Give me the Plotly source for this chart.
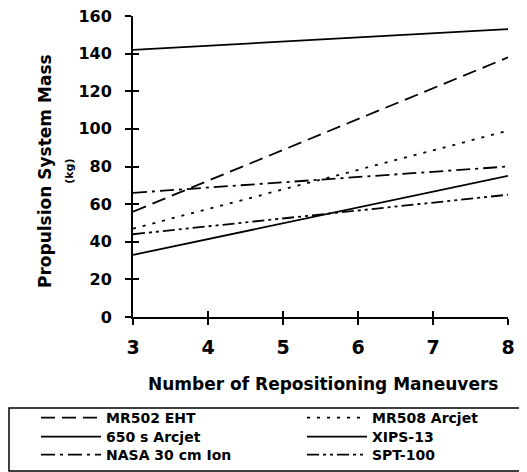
import plotly.graph_objects as go

x_vals = [3, 8]
mr502_eht = [56, 138]
mr508_arcjet = [47, 99]
arcjet_650 = [142, 153]
xips_13 = [33, 75]
nasa_30cm = [66, 80]
spt_100 = [44, 65]

series_names = ["MR502 EHT", "650 s Arcjet", "NASA 30 cm Ion",
                "MR508 Arcjet", "XIPS-13", "SPT-100"]
series_values = [mr502_eht, arcjet_650, nasa_30cm,
                 mr508_arcjet, xips_13, spt_100]
series_dash = ["14px,7px", "solid", "14px,5px,3px,5px",
               "3px,7px", "solid", "12px,4px,3px,4px,3px,4px"]

x_ticks = [3, 4, 5, 6, 7, 8]
y_ticks = [0, 20, 40, 60, 80, 100, 120, 140, 160]

FONT = "DejaVu Sans"
OFF = 8  # page body margin of the generated html
W, H = 527 - OFF, 472 - OFF
L, T = 133 - OFF, 16 - OFF
R = W - (508 - OFF)
B = H - (317 - OFF)
PW, PH = W - L - R, H - T - B


def px(xp):
    return (xp - OFF - L) / PW


def py(yp):
    return (H - B - (yp - OFF)) / PH


# legend slots (page pixel positions): column x, row y
legend_x = [36, 36, 36, 302, 302, 302]
legend_y = [418, 437, 455, 418, 437, 455]

fig = go.Figure()
legend_layouts = {}
for i, (name, vals, dash) in enumerate(zip(series_names, series_values, series_dash)):
    lname = "legend" if i == 0 else f"legend{i + 1}"
    fig.add_trace(go.Scatter(x=x_vals, y=vals, mode="lines", name=name,
                             legend=lname,
                             line=dict(color="black", width=1.8, dash=dash)))
    legend_layouts[lname] = dict(
        xref="container", yref="container",
        x=(legend_x[i] - OFF) / W, y=1 - (legend_y[i] - OFF) / H,
        xanchor="left", yanchor="middle",
        borderwidth=0, bgcolor="rgba(0,0,0,0)",
        font=dict(family=FONT, size=14, weight="bold"),
        itemwidth=60,
    )

fig.update_layout(
    width=W, height=H,
    margin=dict(l=L, r=R, t=T, b=B, autoexpand=False),
    paper_bgcolor="white", plot_bgcolor="white",
    font=dict(family=FONT, color="black"),
    showlegend=True,
    xaxis=dict(range=[3, 8], tickvals=x_ticks, showgrid=False, zeroline=False,
               showline=True, linecolor="black", linewidth=2, automargin=False,
               ticks="outside", ticklen=6, tickwidth=1.5, tickcolor="black",
               ticklabelstandoff=6, ticklabeloverflow="allow",
               tickfont=dict(family=FONT, size=19, weight="bold")),
    yaxis=dict(range=[0, 160], tickvals=y_ticks, showgrid=False, zeroline=False,
               showline=True, linecolor="black", linewidth=2, automargin=False,
               ticks="outside", ticklen=6, tickwidth=1.5, tickcolor="black",
               ticklabelstandoff=10, ticklabeloverflow="allow",
               tickfont=dict(family=FONT, size=16, weight="bold")),
    xaxis2=dict(range=[3, 8], tickvals=x_ticks, overlaying="x",
                showticklabels=False, showgrid=False, zeroline=False,
                ticks="inside", ticklen=6, tickwidth=1.5, tickcolor="black",
                side="bottom", anchor="y", automargin=False),
    yaxis2=dict(range=[0, 160], tickvals=y_ticks, overlaying="y",
                showticklabels=False, showgrid=False, zeroline=False,
                ticks="inside", ticklen=6, tickwidth=1.5, tickcolor="black",
                side="left", anchor="x", automargin=False),
    **legend_layouts,
)
# invisible trace to activate the overlay axes for crossing ticks
fig.add_trace(go.Scatter(x=[3], y=[0], xaxis="x2", yaxis="y2", mode="none",
                         showlegend=False, hoverinfo="skip"))

# axis titles
fig.add_annotation(xref="paper", yref="paper", x=px(323), y=py(384),
                   text="Number of Repositioning Maneuvers", showarrow=False,
                   font=dict(family=FONT, size=17, weight="bold"),
                   xanchor="center", yanchor="middle")
fig.add_annotation(xref="paper", yref="paper", x=px(56), y=py(171),
                   text="Propulsion System Mass<br><span style='font-size:11px'>(kg)</span>",
                   showarrow=False, textangle=-90,
                   font=dict(family=FONT, size=17, weight="bold"),
                   xanchor="center", yanchor="middle")

# legend frame
fig.add_shape(type="rect", xref="paper", yref="paper",
              x0=px(OFF + 1), x1=px(560), y0=py(408), y1=py(471),
              line=dict(color="black", width=1.5), fillcolor="rgba(0,0,0,0)",
              layer="below")

fig.write_html("out.html")
